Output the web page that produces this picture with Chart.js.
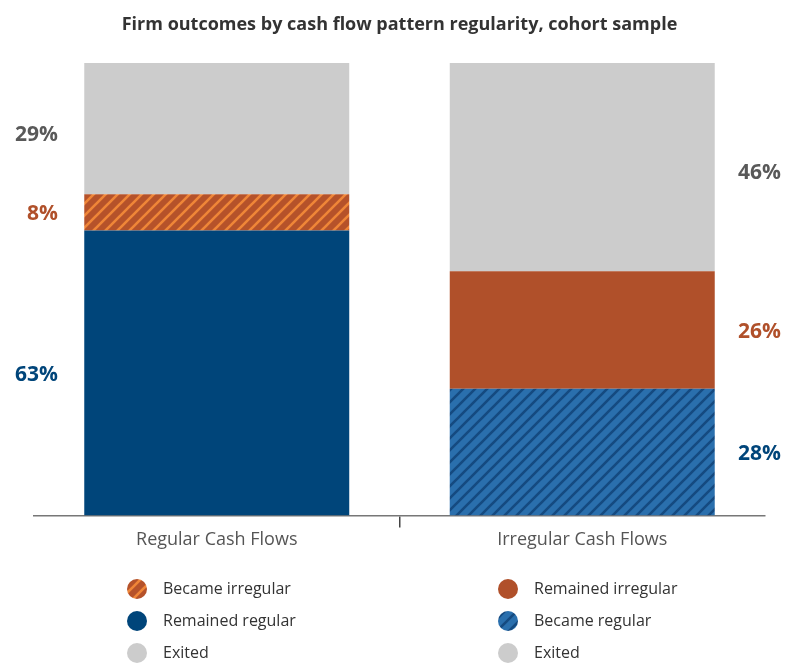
<!DOCTYPE html>
<html>
<head>
<meta charset="utf-8">
<script src="https://cdn.jsdelivr.net/npm/chart.js@4"></script>
<style>
    html, body { margin: 0; padding: 0; background: #fff; }
    #wrap { width: 792px; height: 663px; position: relative; }
</style>
</head>
<body>
<div id="wrap"><canvas id="cashChart"></canvas></div>
<script>
// Data (percent of firms)
const categories = ['Regular Cash Flows', 'Irregular Cash Flows'];
const remainedRegular = [63, null];
const becameRegular = [null, 28];
const becameIrregular = [8, null];
const remainedIrregular = [null, 26];
const exited = [29, 46];

const FONT = "'Open Sans', 'DejaVu Sans', sans-serif";

// Diagonal stripe fill ("/" direction)
function makeStripes(base, stripe) {
    var c = document.createElement('canvas');
    c.width = 12; c.height = 12;
    var g = c.getContext('2d');
    g.fillStyle = base;
    g.fillRect(0, 0, 12, 12);
    g.strokeStyle = stripe;
    g.lineWidth = 2.6;
    g.beginPath();
    g.moveTo(-2, 14); g.lineTo(14, -2);
    g.moveTo(-8, 8); g.lineTo(8, -8);
    g.moveTo(4, 20); g.lineTo(20, 4);
    g.stroke();
    return g.createPattern(c, 'repeat');
}

const orangeHatch = makeStripes('#b5522a', '#ef8638');
const blueHatch = makeStripes('#2a6fad', '#154a80');

const colors = {
    blue: '#00457a',
    orange: '#b0502a',
    grey: '#cccccc',
    greyText: '#595959'
};

// percent labels beside each bar segment
const sideLabels = {
    id: 'sideLabels',
    afterDatasetsDraw(chart) {
        const ctx = chart.ctx;
        ctx.save();
        ctx.font = 'bold 21px ' + FONT;
        ctx.textBaseline = 'middle';
        chart.data.datasets.forEach(function(ds, di) {
            const meta = chart.getDatasetMeta(di);
            meta.data.forEach(function(bar, i) {
                const v = ds.data[i];
                if (v === null || v === undefined) return;
                const y = (bar.y + bar.base) / 2 + (ds.label === 'Exited' ? 6 : 2);
                ctx.fillStyle = ds.labelColor;
                if (i === 0) {
                    ctx.textAlign = 'right';
                    ctx.fillText(v + '%', 58, y);
                } else {
                    ctx.textAlign = 'left';
                    ctx.fillText(v + '%', 738, y);
                }
            });
        });
        ctx.restore();
    }
};

// two column legend under the axis
const legendItems = [
    [
        { text: 'Became irregular', fill: orangeHatch },
        { text: 'Remained regular', fill: colors.blue },
        { text: 'Exited', fill: colors.grey }
    ],
    [
        { text: 'Remained irregular', fill: colors.orange },
        { text: 'Became regular', fill: blueHatch },
        { text: 'Exited', fill: colors.grey }
    ]
];

const twoColLegend = {
    id: 'twoColLegend',
    afterDraw(chart) {
        const ctx = chart.ctx;
        const colX = [137, 508];
        const rowY = [589, 621, 653];
        ctx.save();
        ctx.font = '16px ' + FONT;
        ctx.textBaseline = 'middle';
        ctx.textAlign = 'left';
        legendItems.forEach(function(col, c) {
            col.forEach(function(item, r) {
                ctx.beginPath();
                ctx.arc(colX[c], rowY[r], 10, 0, Math.PI * 2);
                ctx.fillStyle = item.fill;
                ctx.fill();
                ctx.fillStyle = '#333';
                ctx.fillText(item.text, colX[c] + 26, rowY[r]);
            });
        });
        ctx.restore();
    }
};

new Chart(document.getElementById('cashChart'), {
    type: 'bar',
    data: {
        labels: categories,
        datasets: [
            { label: 'Remained regular', data: remainedRegular, backgroundColor: colors.blue, labelColor: colors.blue },
            { label: 'Became regular', data: becameRegular, backgroundColor: blueHatch, labelColor: colors.blue },
            { label: 'Became irregular', data: becameIrregular, backgroundColor: orangeHatch, labelColor: colors.orange },
            { label: 'Remained irregular', data: remainedIrregular, backgroundColor: colors.orange, labelColor: colors.orange },
            { label: 'Exited', data: exited, backgroundColor: colors.grey, labelColor: colors.greyText }
        ]
    },
    options: {
        responsive: true,
        maintainAspectRatio: false,
        animation: false,
        datasets: {
            bar: { categoryPercentage: 1, barPercentage: 0.725, borderWidth: 0 }
        },
        layout: {
            padding: { left: 34, right: 27, top: 0, bottom: 110 }
        },
        plugins: {
            legend: { display: false },
            tooltip: { enabled: false },
            title: {
                display: true,
                text: 'Firm outcomes by cash flow pattern regularity, cohort sample',
                color: '#333',
                font: { family: FONT, size: 18, weight: 'bold' },
                padding: { top: 14, bottom: 27.5 }
            }
        },
        scales: {
            x: {
                stacked: true,
                grid: {
                    display: true,
                    drawOnChartArea: false,
                    drawTicks: true,
                    tickLength: 12,
                    offset: true,
                    color: function(ctx) {
                        return ctx.index === 1 ? '#444' : 'rgba(0,0,0,0)';
                    },
                    lineWidth: 1.5
                },
                border: { display: true, color: '#777', width: 1.5 },
                ticks: {
                    color: '#555',
                    padding: 2,
                    font: { family: FONT, size: 18 }
                }
            },
            y: {
                stacked: true,
                display: false,
                min: 0,
                max: 100
            }
        }
    },
    plugins: [sideLabels, twoColLegend]
});
</script>
</body>
</html>
